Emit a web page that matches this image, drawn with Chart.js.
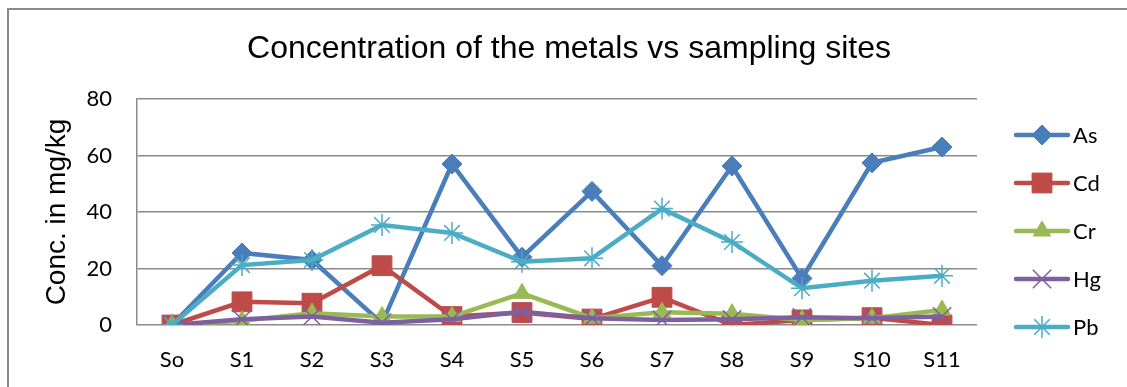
<!DOCTYPE html>
<html>
<head>
<meta charset="utf-8">
<script src="https://cdn.jsdelivr.net/npm/chart.js@4/dist/chart.umd.min.js"></script>
<style>
  html, body { margin: 0; padding: 0; background: #fff; }
  #wrap { position: relative; width: 1127px; height: 387px; }
</style>
</head>
<body>
<div id="wrap"><canvas id="metalsChart" width="1127" height="387"></canvas></div>
<script>
// sampling sites and metal concentrations (mg/kg)
const sites = ["So", "S1", "S2", "S3", "S4", "S5", "S6", "S7", "S8", "S9", "S10", "S11"];
const asVals = [0, 25.5, 23, 0.6, 57, 24, 47.3, 21, 56.3, 16.5, 57.4, 63];
const cdVals = [0, 8.2, 7.7, 21, 3, 4.4, 2.1, 9.8, 0, 1.8, 2.6, 0];
const crVals = [0, 1.5, 4.2, 3, 3, 11.2, 2.4, 4.5, 4, 1.8, 2.4, 5.3];
const hgVals = [0, 2, 3, 0.8, 2, 4.7, 2.4, 1.8, 2, 2.7, 2.4, 3];
const pbVals = [0, 21.2, 23, 35.4, 32.6, 22.4, 23.6, 41.2, 29.4, 13, 15.7, 17.4];
const yTicks = [0, 20, 40, 60, 80];

const TICK_FONT = "Lato, 'Open Sans', sans-serif";
const ARIAL = "'Liberation Sans', Arial, sans-serif";

function series(label, data, color, style, radius, bw, order) {
  return {
    label: label,
    data: data,
    borderColor: color,
    backgroundColor: color,
    pointBackgroundColor: color,
    pointBorderColor: color,
    pointStyle: style,
    pointRadius: radius,
    pointHoverRadius: radius,
    pointBorderWidth: bw,
    borderWidth: 4.5,
    tension: 0,
    order: order
  };
}

const datasets = [
  series("As", asVals, "#4a7ebb", "rectRot", 10, 1, 5),
  series("Cd", cdVals, "#be4b48", "rect", 14, 1, 4),
  series("Cr", crVals, "#98b954", "triangle", 10, 1, 3),
  series("Hg", hgVals, "#7d60a0", "crossRot", 13, 1.5, 2),
  series("Pb", pbVals, "#4bacc6", "star", 11, 1.5, 1)
];

// outer frame, title and the right-hand legend
const frame = {
  id: "frame",
  beforeDraw(chart) {
    const ctx = chart.ctx;
    ctx.save();
    ctx.fillStyle = "#fff";
    ctx.fillRect(0, 0, chart.width, chart.height);
    ctx.strokeStyle = "#8a8a8a";
    ctx.lineWidth = 2;
    ctx.strokeRect(8, 9, 1200, 500);
    ctx.restore();
  },
  afterDraw(chart) {
    const ctx = chart.ctx;
    ctx.save();
    ctx.fillStyle = "#000";
    ctx.font = "32px " + ARIAL;
    ctx.textAlign = "center";
    ctx.textBaseline = "middle";
    ctx.fillText("Concentration of the metals vs sampling sites", 569, 49);

    chart.data.datasets.forEach((ds, i) => {
      const y = 135 + i * 48;
      ctx.strokeStyle = ds.borderColor;
      ctx.lineWidth = 4.5;
      ctx.lineCap = "round";
      ctx.beginPath();
      ctx.moveTo(1016, y);
      ctx.lineTo(1068, y);
      ctx.stroke();
      ctx.fillStyle = ds.pointBackgroundColor;
      ctx.lineWidth = ds.pointBorderWidth;
      ctx.lineCap = "butt";
      if (Chart.helpers && Chart.helpers.drawPoint) {
        Chart.helpers.drawPoint(ctx, {
          pointStyle: ds.pointStyle,
          radius: ds.pointRadius,
          borderWidth: ds.pointBorderWidth,
          rotation: 0
        }, 1042, y);
      }
      ctx.fillStyle = "#000";
      ctx.font = "22px " + TICK_FONT;
      ctx.textAlign = "left";
      ctx.fillText(ds.label, 1073, y + 1);
    });
    ctx.restore();
  }
};

new Chart(document.getElementById("metalsChart"), {
  type: "line",
  data: { labels: sites, datasets: datasets },
  options: {
    responsive: false,
    animation: false,
    layout: { padding: { top: 99, right: 150, left: 0, bottom: 0 } },
    plugins: {
      legend: { display: false },
      tooltip: { enabled: false }
    },
    scales: {
      x: {
        offset: true,
        grid: { display: false, drawTicks: false },
        border: { display: false },
        ticks: {
          color: "#000",
          font: { family: TICK_FONT, size: 22 },
          padding: 22,
          maxRotation: 0
        },
        afterFit(scale) { scale.height = 62; }
      },
      y: {
        min: 0,
        max: 80,
        afterBuildTicks(scale) { scale.ticks = yTicks.map(v => ({ value: v })); },
        grid: { color: "#8a8a8a", lineWidth: 1.5, drawTicks: false },
        border: { display: true, color: "#8a8a8a", width: 1.5 },
        ticks: {
          color: "#000",
          font: { family: TICK_FONT, size: 22 },
          padding: 25
        },
        title: {
          display: true,
          text: "Conc. in mg/kg",
          color: "#000",
          font: { family: ARIAL, size: 28 },
          padding: { top: 40 }
        },
        afterFit(scale) { scale.width = 137; }
      }
    }
  },
  plugins: [frame]
});
</script>
</body>
</html>
